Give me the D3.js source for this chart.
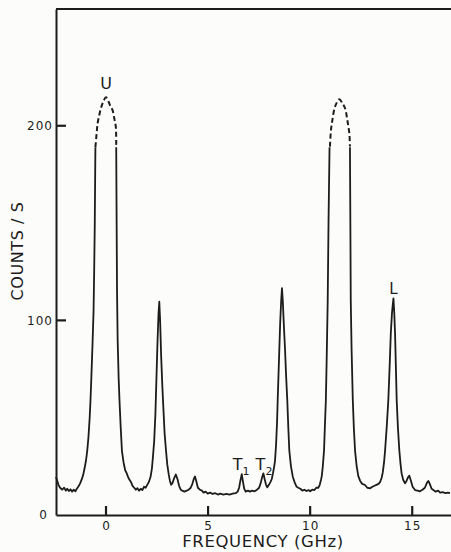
<!DOCTYPE html>
<html>
<head>
<meta charset="utf-8">
<script src="https://cdn.jsdelivr.net/npm/d3@7"></script>
<style>
  html, body { margin: 0; padding: 0; background: #fcfcfa; }
  svg { display: block; font-family: "DejaVu Sans", sans-serif; }
</style>
</head>
<body>
<div id="chart"></div>
<script>
// spectrum: [frequency GHz, counts/s]
// solid trace, split where the tall peaks go off scale (dashed caps)
const traceLeft = [
  [-2.45, 19.5], [-2.40, 18.0], [-2.33, 15.5], [-2.25, 14.0], [-2.15, 13.0],
  [-2.05, 14.0], [-1.97, 12.5], [-1.90, 13.5], [-1.82, 12.3], [-1.74, 13.2],
  [-1.66, 12.0], [-1.58, 13.0], [-1.50, 12.2], [-1.43, 13.5], [-1.36, 14.5],
  [-1.28, 16.0], [-1.20, 18.0], [-1.12, 20.5], [-1.05, 24], [-0.98, 28],
  [-0.92, 33], [-0.86, 40], [-0.80, 50], [-0.76, 59], [-0.72, 70],
  [-0.66, 88], [-0.61, 105], [-0.58, 125], [-0.55, 150], [-0.52, 189]
];

const traceMiddle = [
  [0.50, 189], [0.52, 150], [0.54, 115], [0.57, 90], [0.62, 70], [0.66, 59],
  [0.72, 45], [0.78, 33], [0.86, 27], [0.94, 23], [1.01, 21.5], [1.10, 19],
  [1.22, 17], [1.30, 15], [1.38, 14], [1.46, 13], [1.54, 13.8], [1.62, 12.5],
  [1.70, 13.5], [1.78, 12.8], [1.86, 14.5], [1.94, 14.0], [2.02, 15.5],
  [2.10, 17], [2.18, 19.5], [2.25, 24], [2.30, 30], [2.36, 38], [2.42, 52],
  [2.47, 70], [2.52, 88], [2.57, 103], [2.61, 109.6], [2.65, 100], [2.70, 82],
  [2.76, 66], [2.81, 55], [2.87, 42], [2.94, 33], [3.00, 26], [3.07, 21],
  [3.13, 17.5], [3.19, 15.5], [3.26, 16.5], [3.34, 19], [3.42, 20.8],
  [3.50, 18.5], [3.58, 15], [3.66, 13], [3.74, 12.5], [3.84, 12], [3.95, 12.5],
  [4.05, 13], [4.15, 14], [4.23, 16], [4.30, 18.5], [4.36, 19.8], [4.42, 17.5],
  [4.50, 14], [4.60, 13], [4.70, 12.5], [4.78, 11.5], [4.88, 12], [4.98, 11],
  [5.10, 11.5], [5.22, 10.8], [5.35, 11.2], [5.48, 10.5], [5.60, 11],
  [5.75, 10.5], [5.90, 10.8], [6.05, 10.5], [6.20, 11], [6.35, 11.2],
  [6.45, 12], [6.52, 14], [6.58, 17.5], [6.65, 21], [6.71, 17], [6.77, 13.5],
  [6.84, 12], [6.95, 12.5], [7.05, 12], [7.15, 12.5], [7.28, 12.2], [7.40, 13],
  [7.50, 14], [7.58, 16.5], [7.65, 19.5], [7.71, 21.4], [7.77, 18.5],
  [7.84, 15.5], [7.90, 14.2], [7.98, 15.5], [8.06, 17], [8.12, 18.5],
  [8.18, 21.5], [8.24, 25], [8.28, 28], [8.33, 36], [8.38, 48], [8.41, 59],
  [8.45, 72], [8.49, 85], [8.53, 98], [8.58, 110], [8.62, 116.5], [8.66, 110],
  [8.71, 98], [8.77, 85], [8.82, 72], [8.88, 59], [8.93, 45], [8.98, 33],
  [9.06, 25], [9.15, 19.7], [9.25, 16.5], [9.34, 14.5], [9.42, 14],
  [9.52, 13.5], [9.62, 12.5], [9.72, 13], [9.82, 12.3], [9.92, 12.8],
  [10.00, 12.2], [10.10, 13], [10.20, 12.8], [10.30, 14], [10.40, 14],
  [10.47, 15.5], [10.53, 18], [10.57, 20], [10.62, 25], [10.68, 33],
  [10.72, 45], [10.77, 59], [10.81, 80], [10.86, 110], [10.90, 150], [10.95, 189]
];

const traceRight = [
  [11.95, 189], [11.97, 150], [11.99, 110], [12.03, 85], [12.09, 59],
  [12.14, 45], [12.20, 33], [12.28, 25], [12.36, 20], [12.45, 17.5],
  [12.55, 16], [12.69, 15.4], [12.80, 14], [12.94, 13.7], [13.05, 14.5],
  [13.15, 15], [13.25, 15.5], [13.35, 16], [13.43, 17], [13.50, 19],
  [13.56, 22], [13.62, 27], [13.67, 33], [13.75, 45], [13.83, 59], [13.90, 78],
  [13.95, 93], [14.01, 104], [14.08, 111.3], [14.12, 104], [14.16, 93],
  [14.20, 76], [14.24, 59], [14.30, 45], [14.37, 33], [14.43, 26],
  [14.48, 21.4], [14.56, 18], [14.65, 16.3], [14.72, 17.5], [14.80, 19.5],
  [14.86, 20.2], [14.94, 17.5], [15.02, 14.5], [15.14, 12.8], [15.26, 12.5],
  [15.38, 12.2], [15.50, 13], [15.62, 14], [15.72, 16.5], [15.79, 17.5],
  [15.86, 16], [15.95, 13.5], [16.04, 12.8], [16.15, 12], [16.27, 12.5],
  [16.37, 11.5], [16.50, 11.8], [16.62, 11.2], [16.75, 11.5], [16.85, 11.2]
];

// dashed (extrapolated) tops of the two off-scale peaks
const capU = [
  [-0.52, 189], [-0.46, 196], [-0.41, 201.3], [-0.33, 205.5], [-0.25, 209],
  [-0.13, 212.5], [0.0, 214.6], [0.12, 212.5], [0.22, 210], [0.32, 208],
  [0.42, 203], [0.48, 199.5], [0.50, 189]
];
const capUpper = [
  [10.97, 189.3], [11.02, 197.8], [11.09, 203], [11.22, 209.8], [11.43, 213.6],
  [11.58, 211.5], [11.71, 209], [11.82, 203], [11.92, 196], [11.95, 189.3]
];

const xDomain = [-2.45, 16.9];
const yDomain = [0, 260];
const xTicks = [0, 5, 10, 15];
const yTicks = [0, 100, 200];

const peakLabels = [
  { text: 'U', f: 0.0, c: 219, size: 16 },
  { text: 'L', f: 14.08, c: 113.6, size: 15 }
];
const subLabels = [
  { text: 'T', sub: '1', f: 6.62, c: 23.1 },
  { text: 'T', sub: '2', f: 7.74, c: 23.1 }
];

const W = 451, H = 552;
const INK = '#1c1c1c';

const x = d3.scaleLinear().domain(xDomain).range([56, 451]);
const y = d3.scaleLinear().domain(yDomain).range([515, 9]);

const svg = d3.select('#chart')
  .append('svg')
  .attr('width', W)
  .attr('height', H)
  .attr('viewBox', `0 0 ${W} ${H}`);

svg.append('rect')
  .attr('width', W).attr('height', H)
  .attr('fill', '#fcfcfa');

const line = d3.line()
  .x((d) => x(d[0]))
  .y((d) => y(d[1]));

for (const seg of [traceLeft, traceMiddle, traceRight]) {
  svg.append('path')
    .datum(seg)
    .attr('d', line)
    .attr('fill', 'none')
    .attr('stroke', INK)
    .attr('stroke-width', 1.8)
    .attr('stroke-linejoin', 'round');
}

const capLine = d3.line()
  .x((d) => x(d[0]))
  .y((d) => y(d[1]))
  .curve(d3.curveCatmullRom);

for (const cap of [capU, capUpper]) {
  svg.append('path')
    .datum(cap)
    .attr('d', capLine)
    .attr('fill', 'none')
    .attr('stroke', INK)
    .attr('stroke-width', 2)
    .attr('stroke-dasharray', '5,3');
}

// frame: top rule
svg.append('line')
  .attr('x1', x(xDomain[0])).attr('x2', x(xDomain[1]))
  .attr('y1', y(yDomain[1])).attr('y2', y(yDomain[1]))
  .attr('stroke', INK).attr('stroke-width', 2);

const tickFont = (sel) => sel
  .attr('fill', INK)
  .style('font-family', '"DejaVu Sans", sans-serif')
  .style('font-size', '12px')
  .style('letter-spacing', '1px');

svg.append('g')
  .attr('transform', `translate(0,${y(0)})`)
  .call(d3.axisBottom(x).tickValues(xTicks).tickSize(0).tickSizeOuter(0).tickPadding(6))
  .call((ax) => ax.select('.domain').attr('stroke', INK).attr('stroke-width', 2))
  .call((ax) => ax.selectAll('.tick text').call(tickFont));

svg.append('g')
  .attr('transform', `translate(${x(xDomain[0])},0)`)
  .call(d3.axisLeft(y).tickValues(yTicks).tickSize(0).tickSizeOuter(0).tickPadding(3))
  .call((ax) => ax.select('.domain').attr('stroke', INK).attr('stroke-width', 2))
  .call((ax) => ax.selectAll('.tick text').call(tickFont)
    .attr('dx', (d) => (d === 0 ? -5 : 0)));

// inward tick marks
svg.append('g')
  .selectAll('line')
  .data(xTicks)
  .enter()
  .append('line')
  .attr('x1', (d) => x(d)).attr('x2', (d) => x(d))
  .attr('y1', y(0)).attr('y2', y(0) - 9)
  .attr('stroke', INK).attr('stroke-width', 2.2);

svg.append('g')
  .selectAll('line')
  .data(yTicks.filter((d) => d > 0))
  .enter()
  .append('line')
  .attr('x1', x(xDomain[0])).attr('x2', x(xDomain[0]) + 10)
  .attr('y1', (d) => y(d)).attr('y2', (d) => y(d))
  .attr('stroke', INK).attr('stroke-width', 2.2);

svg.append('text')
  .attr('x', 263)
  .attr('y', 547)
  .attr('text-anchor', 'middle')
  .attr('fill', INK)
  .style('font-size', '16.5px')
  .style('letter-spacing', '0.6px')
  .text('FREQUENCY (GHz)');

svg.append('text')
  .attr('transform', 'translate(23,251) rotate(-90)')
  .attr('text-anchor', 'middle')
  .attr('fill', INK)
  .style('font-size', '16px')
  .style('letter-spacing', '0.6px')
  .text('COUNTS / S');

svg.selectAll('.peak-label')
  .data(peakLabels)
  .enter()
  .append('text')
  .attr('class', 'peak-label')
  .attr('x', (d) => x(d.f))
  .attr('y', (d) => y(d.c))
  .attr('text-anchor', 'middle')
  .attr('fill', INK)
  .style('font-size', (d) => `${d.size}px`)
  .text((d) => d.text);

const subs = svg.selectAll('.sub-label')
  .data(subLabels)
  .enter()
  .append('text')
  .attr('class', 'sub-label')
  .attr('x', (d) => x(d.f))
  .attr('y', (d) => y(d.c))
  .attr('text-anchor', 'middle')
  .attr('fill', INK)
  .style('font-size', '16px');
subs.append('tspan').text((d) => d.text);
subs.append('tspan')
  .attr('dy', 5)
  .style('font-size', '11px')
  .text((d) => d.sub);
</script>
</body>
</html>
